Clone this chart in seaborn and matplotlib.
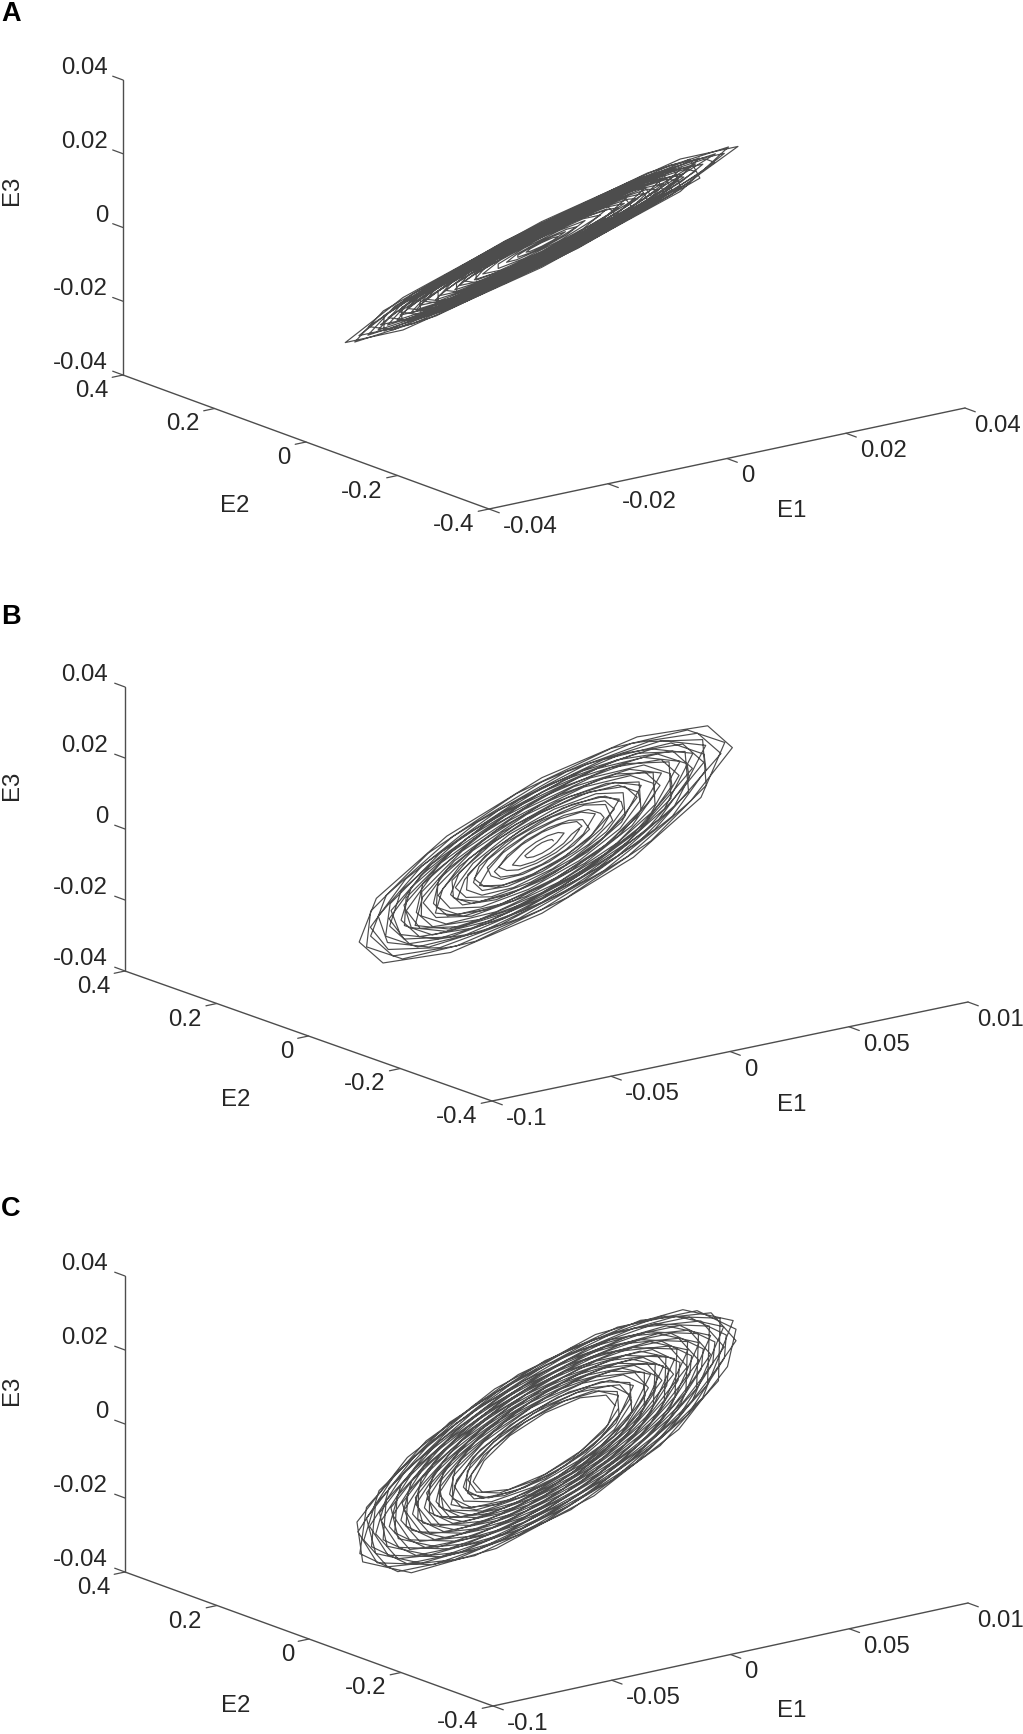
import numpy as np
import pandas as pd
import seaborn as sns
import matplotlib.pyplot as plt

# tick labels, as printed on each panel
E1_TICKS_A = [-0.04, -0.02, 0, 0.02, 0.04]
E1_LABELS_A = ["-0.04", "-0.02", "0", "0.02", "0.04"]
E1_TICKS_BC = [-0.1, -0.05, 0, 0.05, 0.1]
E1_LABELS_BC = ["-0.1", "-0.05", "0", "0.05", "0.01"]
E2_TICKS = [-0.4, -0.2, 0, 0.2, 0.4]
E2_LABELS = ["-0.4", "-0.2", "0", "0.2", "0.4"]
E3_TICKS = [-0.04, -0.02, 0, 0.02, 0.04]
E3_LABELS = ["-0.04", "-0.02", "0", "0.02", "0.04"]

# orbit centres (E1, E3), orbits lie about E2 = 0
CENTRE_A = (-0.0004, 0.0)
CENTRE_B = (-0.0019, -0.0004)
CENTRE_C = (-0.0006, -0.0009)

E1_A = [
    .0026, .0019, 0, -.0019, -.0026, -.0019, 0, .0019,
    .0040, .0016, -.0016, -.0040, -.0040, -.0016, .0016, .0040,
    .0059, .0042, 0, -.0042, -.0059, -.0042, 0, .0042,
    .0073, .0030, -.0030, -.0073, -.0073, -.0030, .0030, .0073,
    .0099, .0070, 0, -.0070, -.0099, -.0070, 0, .0070,
    .0110, .0045, -.0045, -.0110, -.0110, -.0045, .0045, .0110,
    .0139, .0098, 0, -.0098, -.0139, -.0098, 0, .0098,
    .0143, .0059, -.0059, -.0143, -.0143, -.0059, .0059, .0143,
    .0172, .0121, 0, -.0121, -.0172, -.0121, 0, .0121,
    .0174, .0072, -.0072, -.0174, -.0174, -.0072, .0072, .0174,
    .0205, .0144, 0, -.0144, -.0205, -.0144, 0, .0144,
    .0204, .0084, -.0084, -.0204, -.0204, -.0084, .0084, .0204,
    .0238, .0168, 0, -.0168, -.0238, -.0168, 0, .0168,
    .0235, .0097, -.0097, -.0235, -.0235, -.0097, .0097, .0235,
    .0271, .0191, 0, -.0191, -.0271, -.0191, 0, .0191,
    .0265, .0110, -.0110, -.0265, -.0265, -.0110, .0110, .0265,
    .0307, .0217, 0, -.0217, -.0307, -.0217, 0, .0217,
    .0330, .0233, 0, -.0233, -.0330, -.0233, 0, .0233,
    .0314, .0178, -.0061, -.0266, -.0314, -.0178, .0061, .0266,
    .0249, .0062, -.0162, -.0291, -.0249, -.0062, .0162, .0291,
    .0275, .0156, -.0054, -.0233, -.0275, -.0156, .0054, .0233,
    .0222, .0055, -.0144, -.0258, -.0222, -.0055, .0144, .0258,
    .0243, .0138, -.0047, -.0206, -.0243, -.0138, .0047, .0206,
    .0194, .0048, -.0126, -.0226, -.0194, -.0048, .0126, .0226,
    .0211, .0120, -.0041, -.0178, -.0211, -.0120, .0041, .0178,
    .0166, .0041, -.0108, -.0194, -.0166, -.0041, .0108, .0194,
    .0178, .0101, -.0035, -.0151, -.0178, -.0101, .0035, .0151,
    .0139, .0035, -.0090, -.0162, -.0139, -.0035, .0090, .0162,
    .0146, .0083, -.0028, -.0123, -.0146, -.0083, .0028, .0123,
    .0111, .0028, -.0072, -.0129, -.0111, -.0028, .0072, .0129,
    .0113, .0064, -.0022, -.0096, -.0113, -.0064, .0022, .0096,
    .0259, .0147, -.0050, -.0219, -.0259, -.0147, .0050, .0219,
    .0205, .0051, -.0133, -.0239, -.0205, -.0051, .0133, .0239,
    .0220, .0125, -.0043, -.0186, -.0220, -.0125, .0043, .0186,
    .0172, .0043, -.0112, -.0200, -.0172, -.0043, .0112, .0200,
    .0292, .0166, -.0057, -.0247, -.0292, -.0166, .0057, .0247,
]
E3_A = [
    .0012, .0012, .0005, -.0005, -.0012, -.0012, -.0005, .0005,
    .0021, .0015, 0, -.0015, -.0021, -.0015, 0, .0015,
    .0028, .0027, .0011, -.0012, -.0028, -.0027, -.0011, .0012,
    .0040, .0028, 0, -.0028, -.0040, -.0028, 0, .0028,
    .0046, .0046, .0019, -.0019, -.0046, -.0046, -.0019, .0019,
    .0059, .0042, -.0001, -.0042, -.0059, -.0042, .0001, .0042,
    .0064, .0064, .0026, -.0027, -.0064, -.0064, -.0026, .0027,
    .0078, .0055, -.0001, -.0055, -.0078, -.0055, .0001, .0055,
    .0080, .0079, .0032, -.0033, -.0080, -.0079, -.0032, .0033,
    .0094, .0066, -.0001, -.0067, -.0094, -.0066, .0001, .0067,
    .0095, .0094, .0038, -.0040, -.0095, -.0094, -.0038, .0040,
    .0111, .0078, -.0001, -.0078, -.0111, -.0078, .0001, .0078,
    .0110, .0109, .0045, -.0046, -.0110, -.0109, -.0045, .0046,
    .0127, .0089, -.0002, -.0090, -.0127, -.0089, .0002, .0090,
    .0125, .0125, .0051, -.0052, -.0125, -.0125, -.0051, .0052,
    .0144, .0101, -.0002, -.0102, -.0144, -.0101, .0002, .0102,
    .0142, .0141, .0058, -.0060, -.0142, -.0141, -.0058, .0060,
    .0153, .0152, .0062, -.0064, -.0153, -.0152, -.0062, .0064,
    .0157, .0133, .0031, -.0089, -.0157, -.0133, -.0031, .0089,
    .0146, .0084, -.0028, -.0123, -.0146, -.0084, .0028, .0123,
    .0138, .0116, .0027, -.0078, -.0138, -.0116, -.0027, .0078,
    .0130, .0074, -.0025, -.0110, -.0130, -.0074, .0025, .0110,
    .0122, .0103, .0024, -.0069, -.0122, -.0103, -.0024, .0069,
    .0113, .0065, -.0022, -.0096, -.0113, -.0065, .0022, .0096,
    .0105, .0089, .0021, -.0060, -.0105, -.0089, -.0021, .0060,
    .0097, .0056, -.0019, -.0082, -.0097, -.0056, .0019, .0082,
    .0089, .0075, .0018, -.0051, -.0089, -.0075, -.0018, .0051,
    .0081, .0047, -.0016, -.0069, -.0081, -.0047, .0016, .0069,
    .0073, .0062, .0014, -.0041, -.0073, -.0062, -.0014, .0041,
    .0065, .0037, -.0012, -.0055, -.0065, -.0037, .0012, .0055,
    .0057, .0048, .0011, -.0032, -.0057, -.0048, -.0011, .0032,
    .0130, .0110, .0026, -.0074, -.0130, -.0110, -.0026, .0074,
    .0120, .0069, -.0023, -.0101, -.0120, -.0069, .0023, .0101,
    .0110, .0093, .0022, -.0063, -.0110, -.0093, -.0022, .0063,
    .0100, .0058, -.0019, -.0085, -.0100, -.0058, .0019, .0085,
    .0146, .0123, .0029, -.0083, -.0146, -.0123, -.0029, .0083,
]

E1_B = [
    .0048, .0042, .0024, 0, -.0024, -.0042, -.0072, -.0063, -.0036, 0, .0036, .0063,
    .0093, .0068, .0025, -.0025, -.0068, -.0093, -.0124, -.0091, -.0033, .0033, .0091, .0124,
    .0168, .0146, .0084, 0, -.0084, -.0146, -.0200, -.0174, -.0100, 0, .0100, .0174,
    .0224, .0164, .0060, -.0060, -.0164, -.0224, -.0263, -.0192, -.0070, .0070, .0192, .0263,
    .0304, .0264, .0152, 0, -.0152, -.0264, -.0288, -.0251, -.0144, 0, .0144, .0251,
    .0325, .0238, .0087, -.0087, -.0238, -.0325, -.0356, -.0260, -.0095, .0095, .0260, .0356,
    .0400, .0348, .0200, 0, -.0200, -.0348, -.0384, -.0334, -.0192, 0, .0192, .0334,
    .0417, .0306, .0112, -.0112, -.0306, -.0417, -.0448, -.0328, -.0120, .0120, .0328, .0448,
    .0496, .0432, .0248, 0, -.0248, -.0432, -.0456, -.0397, -.0228, 0, .0228, .0397,
    .0502, .0368, .0135, -.0135, -.0368, -.0502, -.0533, -.0391, -.0143, .0143, .0391, .0533,
    .0576, .0501, .0288, 0, -.0288, -.0501, -.0528, -.0459, -.0264, 0, .0264, .0459,
    .0580, .0425, .0155, -.0155, -.0425, -.0580, -.0549, -.0402, -.0147, .0147, .0402, .0549,
    .0632, .0550, .0316, 0, -.0316, -.0550, -.0592, -.0515, -.0296, 0, .0296, .0515,
    .0634, .0464, .0170, -.0170, -.0464, -.0634, -.0595, -.0436, -.0159, .0159, .0436, .0595,
    .0680, .0592, .0340, 0, -.0340, -.0592, -.0640, -.0557, -.0320, 0, .0320, .0557,
    .0688, .0504, .0184, -.0184, -.0504, -.0688, -.0649, -.0475, -.0174, .0174, .0475, .0649,
    .0752, .0654, .0376, 0, -.0376, -.0654, -.0720, -.0626, -.0360, 0, .0360, .0626,
    .0800, .0696, .0400, 0, -.0400, -.0696, -.0768, -.0668, -.0384, 0, .0384, .0668,
    .0768, .0611, .0291, -.0108, -.0478, -.0720, -.0737, -.0586, -.0279, .0103, .0458, .0690,
    .0675, .0449, .0101, -.0273, -.0573, -.0721, -.0646, -.0429, -.0097, .0261, .0548, .0689,
    .0681, .0542, .0258, -.0095, -.0424, -.0638, -.0657, -.0523, -.0249, .0092, .0409, .0616,
    .0601, .0399, .0090, -.0243, -.0510, -.0642, -.0579, -.0385, -.0087, .0234, .0491, .0618,
    .0610, .0485, .0231, -.0085, -.0380, -.0571, -.0578, -.0460, -.0219, .0081, .0360, .0542,
    .0534, .0355, .0080, -.0216, -.0454, -.0570, -.0512, -.0340, -.0077, .0207, .0435, .0546,
    .0539, .0428, .0204, -.0075, -.0335, -.0505, -.0507, -.0403, -.0192, .0071, .0316, .0475,
    .0467, .0311, .0070, -.0189, -.0397, -.0499, -.0445, -.0296, -.0067, .0180, .0378, .0475,
    .0467, .0372, .0177, -.0065, -.0291, -.0438, -.0444, -.0353, -.0168, .0062, .0276, .0416,
    .0408, .0271, .0061, -.0165, -.0347, -.0436, -.0386, -.0256, -.0058, .0156, .0328, .0412,
    .0404, .0321, .0153, -.0057, -.0251, -.0378, -.0372, -.0296, -.0141, .0052, .0232, .0349,
    .0341, .0227, .0051, -.0138, -.0290, -.0364, -.0319, -.0212, -.0048, .0129, .0271, .0341,
    .0333, .0265, .0126, -.0047, -.0207, -.0312, -.0317, -.0252, -.0120, .0044, .0197, .0297,
    .0267, .0177, .0040, -.0108, -.0227, -.0285, -.0245, -.0163, -.0037, .0099, .0208, .0261,
    .0246, .0195, .0093, -.0034, -.0153, -.0230, -.0214, -.0170, -.0081, .0030, .0133, .0200,
    .0171, .0113, .0026, -.0069, -.0145, -.0182, -.0148, -.0099, -.0022, .0060, .0126, .0158,
]
E3_B = [
    .0010, .0015, .0015, .0012, .0005, -.0003, -.0015, -.0022, -.0023, -.0018, -.0008, .0004,
    .0026, .0031, .0028, .0017, .0002, -.0013, -.0034, -.0041, -.0037, -.0023, -.0003, .0018,
    .0035, .0051, .0053, .0041, .0018, -.0010, -.0042, -.0061, -.0064, -.0049, -.0022, .0012,
    .0062, .0075, .0067, .0042, .0006, -.0032, -.0072, -.0087, -.0079, -.0049, -.0006, .0038,
    .0064, .0093, .0097, .0074, .0033, -.0018, -.0060, -.0088, -.0091, -.0070, -.0031, .0017,
    .0089, .0108, .0097, .0060, .0008, -.0047, -.0098, -.0118, -.0107, -.0066, -.0009, .0051,
    .0084, .0122, .0127, .0098, .0043, -.0024, -.0081, -.0117, -.0122, -.0094, -.0041, .0023,
    .0115, .0139, .0125, .0078, .0010, -.0060, -.0124, -.0149, -.0135, -.0084, -.0011, .0064,
    .0104, .0151, .0157, .0121, .0053, -.0030, -.0096, -.0139, -.0145, -.0111, -.0049, .0027,
    .0138, .0167, .0151, .0094, .0012, -.0072, -.0147, -.0177, -.0160, -.0099, -.0013, .0077,
    .0121, .0176, .0183, .0140, .0062, -.0035, -.0111, -.0161, -.0168, -.0129, -.0057, .0032,
    .0160, .0193, .0174, .0108, .0014, -.0083, -.0151, -.0182, -.0165, -.0102, -.0013, .0079,
    .0133, .0193, .0201, .0154, .0068, -.0038, -.0124, -.0181, -.0188, -.0144, -.0064, .0036,
    .0175, .0211, .0190, .0118, .0016, -.0091, -.0164, -.0198, -.0179, -.0111, -.0015, .0085,
    .0143, .0207, .0216, .0166, .0073, -.0041, -.0134, -.0195, -.0203, -.0156, -.0069, .0038,
    .0190, .0229, .0206, .0128, .0017, -.0099, -.0179, -.0216, -.0195, -.0121, -.0016, .0093,
    .0158, .0229, .0239, .0183, .0081, -.0045, -.0151, -.0220, -.0229, -.0176, -.0077, .0043,
    .0168, .0244, .0254, .0195, .0086, -.0048, -.0161, -.0234, -.0244, -.0187, -.0083, .0046,
    .0187, .0244, .0237, .0165, .0049, -.0081, -.0179, -.0234, -.0227, -.0158, -.0047, .0077,
    .0208, .0234, .0197, .0107, -.0011, -.0126, -.0199, -.0224, -.0188, -.0103, .0010, .0121,
    .0166, .0217, .0210, .0146, .0044, -.0071, -.0160, -.0209, -.0203, -.0141, -.0042, .0069,
    .0185, .0208, .0175, .0096, -.0010, -.0113, -.0179, -.0200, -.0168, -.0092, .0009, .0108,
    .0149, .0194, .0188, .0131, .0039, -.0064, -.0141, -.0184, -.0178, -.0124, -.0037, .0061,
    .0165, .0185, .0156, .0085, -.0009, -.0100, -.0158, -.0177, -.0149, -.0081, .0008, .0096,
    .0131, .0171, .0166, .0116, .0035, -.0056, -.0124, -.0161, -.0156, -.0109, -.0033, .0053,
    .0144, .0162, .0136, .0074, -.0008, -.0088, -.0137, -.0154, -.0130, -.0071, .0007, .0083,
    .0114, .0149, .0144, .0100, .0030, -.0049, -.0108, -.0141, -.0137, -.0095, -.0029, .0046,
    .0126, .0141, .0119, .0065, -.0007, -.0076, -.0119, -.0134, -.0112, -.0061, .0006, .0072,
    .0098, .0129, .0124, .0087, .0026, -.0042, -.0091, -.0118, -.0115, -.0080, -.0024, .0039,
    .0105, .0118, .0099, .0054, -.0006, -.0064, -.0098, -.0111, -.0093, -.0051, .0005, .0060,
    .0081, .0106, .0102, .0071, .0021, -.0035, -.0077, -.0101, -.0098, -.0068, -.0020, .0033,
    .0082, .0093, .0078, .0042, -.0004, -.0050, -.0076, -.0085, -.0071, -.0039, .0004, .0046,
    .0060, .0078, .0076, .0053, .0016, -.0026, -.0052, -.0068, -.0066, -.0046, -.0014, .0022,
    .0053, .0059, .0050, .0027, -.0003, -.0032, -.0046, -.0051, -.0043, -.0024, .0002, .0028,
]

E1_C = [
    .0295, .0257, .0148, 0, -.0148, -.0257, -.0303, -.0264, -.0152, 0, .0152, .0264,
    .0309, .0226, .0083, -.0083, -.0226, -.0309, -.0325, -.0238, -.0087, .0087, .0238, .0325,
    .0361, .0314, .0180, 0, -.0180, -.0314, -.0344, -.0299, -.0172, 0, .0172, .0299,
    .0372, .0273, .0100, -.0100, -.0273, -.0372, -.0396, -.0290, -.0106, .0106, .0290, .0396,
    .0435, .0378, .0217, 0, -.0217, -.0378, -.0402, -.0349, -.0201, 0, .0201, .0349,
    .0444, .0325, .0119, -.0119, -.0325, -.0444, -.0428, -.0313, -.0114, .0114, .0313, .0428,
    .0492, .0428, .0246, 0, -.0246, -.0428, -.0459, -.0399, -.0230, 0, .0230, .0399,
    .0499, .0365, .0134, -.0134, -.0365, -.0499, -.0467, -.0342, -.0125, .0125, .0342, .0467,
    .0541, .0471, .0271, 0, -.0271, -.0471, -.0508, -.0442, -.0254, 0, .0254, .0442,
    .0546, .0400, .0146, -.0146, -.0400, -.0546, -.0515, -.0377, -.0138, .0138, .0377, .0515,
    .0599, .0520, .0299, 0, -.0299, -.0520, -.0558, -.0485, -.0279, 0, .0279, .0485,
    .0602, .0441, .0161, -.0161, -.0441, -.0602, -.0562, -.0412, -.0151, .0151, .0412, .0562,
    .0648, .0563, .0324, 0, -.0324, -.0563, -.0607, -.0528, -.0303, 0, .0303, .0528,
    .0649, .0476, .0174, -.0174, -.0476, -.0649, -.0618, -.0452, -.0165, .0165, .0452, .0618,
    .0697, .0606, .0349, 0, -.0349, -.0606, -.0656, -.0570, -.0328, 0, .0328, .0570,
    .0697, .0510, .0187, -.0187, -.0510, -.0697, -.0665, -.0487, -.0178, .0178, .0487, .0665,
    .0754, .0656, .0377, 0, -.0377, -.0656, -.0713, -.0620, -.0357, 0, .0357, .0620,
    .0752, .0551, .0201, -.0201, -.0551, -.0752, -.0713, -.0522, -.0191, .0191, .0522, .0713,
    .0804, .0699, .0402, 0, -.0402, -.0699, -.0763, -.0663, -.0381, 0, .0381, .0663,
    .0792, .0580, .0212, -.0212, -.0580, -.0792, -.0768, -.0563, -.0206, .0206, .0563, .0768,
    .0804, .0640, .0305, -.0113, -.0500, -.0752, -.0780, -.0620, -.0296, .0109, .0485, .0730,
    .0737, .0490, .0111, -.0299, -.0627, -.0788, -.0707, -.0470, -.0106, .0286, .0601, .0755,
    .0763, .0607, .0290, -.0107, -.0475, -.0714, -.0731, -.0581, -.0277, .0103, .0455, .0684,
    .0692, .0460, .0104, -.0280, -.0588, -.0739, -.0661, -.0439, -.0099, .0268, .0562, .0706,
    .0715, .0568, .0271, -.0100, -.0444, -.0669, -.0682, -.0543, -.0259, .0096, .0424, .0638,
    .0646, .0429, .0097, -.0262, -.0549, -.0690, -.0616, -.0409, -.0092, .0249, .0523, .0658,
    .0666, .0530, .0253, -.0093, -.0414, -.0623, -.0633, -.0504, -.0240, .0089, .0394, .0593,
    .0600, .0399, .0090, -.0243, -.0510, -.0641, -.0570, -.0379, -.0086, .0231, .0485, .0609,
    .0617, .0491, .0234, -.0087, -.0384, -.0578, -.0585, -.0465, -.0222, .0082, .0364, .0547,
    .0555, .0369, .0083, -.0225, -.0472, -.0593, -.0524, -.0348, -.0079, .0213, .0446, .0560,
    .0568, .0452, .0216, -.0080, -.0354, -.0532, -.0536, -.0426, -.0203, .0075, .0333, .0502,
    .0509, .0338, .0076, -.0206, -.0433, -.0544, -.0479, -.0318, -.0072, .0194, .0407, .0512,
    .0520, .0413, .0197, -.0073, -.0323, -.0486, -.0487, -.0388, -.0185, .0068, .0303, .0456,
    .0464, .0308, .0070, -.0188, -.0394, -.0495, -.0433, -.0288, -.0065, .0176, .0368, .0463,
    .0471, .0375, .0179, -.0066, -.0293, -.0441, -.0447, -.0355, -.0169, .0063, .0278, .0418,
    .0418, .0278, .0063, -.0169, -.0355, -.0447, -.0395, -.0263, -.0059, .0160, .0336, .0422,
    .0414, .0329, .0157, -.0058, -.0258, -.0388, -.0390, -.0310, -.0148, .0055, .0242, .0365,
    .0357, .0237, .0054, -.0145, -.0304, -.0382, -.0342, -.0227, -.0051, .0139, .0291, .0365,
    .0349, .0278, .0132, -.0049, -.0217, -.0327, -.0333, -.0265, -.0126, .0047, .0207, .0312,
    .0304, .0202, .0046, -.0123, -.0258, -.0325, -.0289, -.0192, -.0043, .0117, .0245, .0309,
]
E3_C = [
    .0060, .0094, .0102, .0082, .0041, -.0012, -.0062, -.0096, -.0104, -.0084, -.0042, .0012,
    .0086, .0109, .0103, .0069, .0016, -.0040, -.0091, -.0115, -.0108, -.0072, -.0017, .0042,
    .0074, .0114, .0124, .0100, .0050, -.0014, -.0071, -.0109, -.0118, -.0096, -.0048, .0013,
    .0104, .0132, .0124, .0083, .0020, -.0048, -.0111, -.0140, -.0132, -.0088, -.0021, .0052,
    .0089, .0138, .0149, .0121, .0060, -.0017, -.0082, -.0127, -.0138, -.0112, -.0056, .0016,
    .0124, .0157, .0148, .0099, .0024, -.0058, -.0119, -.0151, -.0143, -.0095, -.0023, .0056,
    .0101, .0156, .0169, .0137, .0068, -.0019, -.0094, -.0146, -.0158, -.0128, -.0064, .0018,
    .0139, .0176, .0166, .0111, .0026, -.0065, -.0130, -.0165, -.0156, -.0104, -.0025, .0061,
    .0111, .0172, .0186, .0150, .0075, -.0021, -.0104, -.0161, -.0175, -.0141, -.0071, .0020,
    .0152, .0193, .0182, .0121, .0029, -.0071, -.0144, -.0182, -.0172, -.0114, -.0027, .0067,
    .0123, .0190, .0206, .0166, .0083, -.0023, -.0114, -.0177, -.0192, -.0155, -.0078, .0022,
    .0168, .0213, .0201, .0134, .0032, -.0078, -.0157, -.0199, -.0187, -.0125, -.0030, .0073,
    .0133, .0205, .0223, .0180, .0090, -.0025, -.0124, -.0192, -.0209, -.0169, -.0084, .0024,
    .0181, .0230, .0216, .0144, .0034, -.0084, -.0172, -.0218, -.0206, -.0137, -.0033, .0080,
    .0143, .0221, .0240, .0194, .0097, -.0027, -.0134, -.0208, -.0226, -.0182, -.0091, .0026,
    .0194, .0246, .0232, .0155, .0037, -.0091, -.0186, -.0235, -.0222, -.0148, -.0035, .0087,
    .0155, .0239, .0259, .0210, .0105, -.0029, -.0146, -.0226, -.0245, -.0198, -.0099, .0028,
    .0210, .0266, .0251, .0167, .0040, -.0098, -.0199, -.0252, -.0238, -.0158, -.0038, .0093,
    .0165, .0255, .0276, .0223, .0112, -.0031, -.0156, -.0242, -.0262, -.0212, -.0106, .0030,
    .0221, .0280, .0264, .0176, .0042, -.0103, -.0214, -.0272, -.0256, -.0171, -.0041, .0100,
    .0196, .0269, .0271, .0201, .0076, -.0069, -.0190, -.0261, -.0263, -.0195, -.0074, .0067,
    .0235, .0275, .0242, .0144, .0008, -.0130, -.0225, -.0263, -.0232, -.0138, -.0007, .0125,
    .0186, .0256, .0258, .0191, .0072, -.0066, -.0178, -.0245, -.0247, -.0183, -.0069, .0063,
    .0220, .0258, .0227, .0135, .0007, -.0122, -.0211, -.0246, -.0217, -.0129, -.0007, .0117,
    .0174, .0239, .0241, .0179, .0068, -.0062, -.0166, -.0228, -.0230, -.0171, -.0065, .0059,
    .0206, .0241, .0212, .0126, .0007, -.0114, -.0196, -.0229, -.0202, -.0120, -.0006, .0109,
    .0162, .0223, .0225, .0166, .0063, -.0057, -.0154, -.0212, -.0214, -.0158, -.0060, .0055,
    .0191, .0224, .0197, .0117, .0006, -.0106, -.0182, -.0212, -.0187, -.0111, -.0006, .0101,
    .0150, .0207, .0208, .0154, .0059, -.0053, -.0143, -.0196, -.0197, -.0146, -.0055, .0050,
    .0177, .0207, .0182, .0108, .0006, -.0098, -.0167, -.0195, -.0172, -.0102, -.0006, .0092,
    .0139, .0190, .0192, .0142, .0054, -.0049, -.0131, -.0180, -.0181, -.0134, -.0051, .0046,
    .0162, .0190, .0167, .0099, .0005, -.0090, -.0152, -.0178, -.0157, -.0093, -.0005, .0084,
    .0127, .0174, .0175, .0130, .0049, -.0045, -.0119, -.0163, -.0164, -.0122, -.0046, .0042,
    .0148, .0173, .0152, .0090, .0005, -.0082, -.0138, -.0161, -.0142, -.0084, -.0005, .0076,
    .0115, .0158, .0159, .0118, .0045, -.0041, -.0109, -.0150, -.0151, -.0112, -.0042, .0039,
    .0133, .0156, .0137, .0081, .0004, -.0074, -.0126, -.0147, -.0129, -.0077, -.0004, .0070,
    .0101, .0139, .0140, .0104, .0039, -.0036, -.0095, -.0131, -.0132, -.0097, -.0037, .0034,
    .0114, .0133, .0117, .0070, .0004, -.0063, -.0109, -.0127, -.0112, -.0067, -.0004, .0060,
    .0085, .0117, .0118, .0087, .0033, -.0030, -.0081, -.0112, -.0112, -.0083, -.0032, .0029,
    .0097, .0113, .0100, .0059, .0003, -.0054, -.0092, -.0108, -.0095, -.0056, -.0003, .0051,
]

sns.set_style("white")
plt.rcParams['font.family'] = ['Liberation Sans', 'DejaVu Sans']

LINE = "#4d4d4d"
FS = 17.3

fig = plt.figure(figsize=(10.23, 17.34), dpi=100)
ax = fig.add_axes([0, 0, 1, 1])


def project(e1, e2, e3, x_hi, box):
    # oblique view of the box: box holds far corner, front corner, right corner, z height
    (ox, oy), (fx, fy), (rx, ry), h = box
    f1 = (np.asarray(e1) + x_hi) / (2 * x_hi)
    f2 = (np.asarray(e2) + 0.4) / 0.8
    f3 = (np.asarray(e3) + 0.04) / 0.08
    x = fx + f1 * (rx - fx) + f2 * (ox - fx)
    y = fy + f1 * (ry - fy) + f2 * (oy - fy) - f3 * h
    return x, y


def draw_panel(letter, letter_y, box, e2_xy, e1_xy, e3_y, x_hi, e1_ticks, e1_labels, e1, e3, centre):
    ax.text(1, letter_y, letter, fontsize=19.5, fontweight='bold', ha='left', va='center', color='black')

    # the three axis lines
    x, y = project([-x_hi, -x_hi, x_hi], [0.4, -0.4, -0.4], [-0.04, -0.04, -0.04], x_hi, box)
    ax.plot(x, y, color=LINE, lw=1.0)
    x, y = project([-x_hi, -x_hi], [0.4, 0.4], [-0.04, 0.04], x_hi, box)
    ax.plot(x, y, color=LINE, lw=1.0)

    for t, lab in zip(e1_ticks, e1_labels):
        x, y = project(t, -0.4, -0.04, x_hi, box)
        ax.plot([x, x + 10.3], [y, y + 3.8], color=LINE, lw=0.9)
        dx = 9 if t == e1_ticks[-1] else 14
        ax.text(x + dx, y + 18, lab, fontsize=FS, ha='left', va='center')
    for t, lab in zip(E2_TICKS, E2_LABELS):
        x, y = project(-x_hi, t, -0.04, x_hi, box)
        ax.plot([x, x - 10.8], [y, y + 2.3], color=LINE, lw=0.9)
        ax.text(x - 15, y + 16, lab, fontsize=FS, ha='right', va='center')
    for t, lab in zip(E3_TICKS, E3_LABELS):
        x, y = project(-x_hi, 0.4, t, x_hi, box)
        ax.plot([x, x - 10.3], [y, y - 3.8], color=LINE, lw=0.9)
        ax.text(108, y - 12, lab, fontsize=FS, ha='right', va='center')

    ax.text(e2_xy[0], e2_xy[1], "E2", fontsize=FS, ha='center', va='center')
    ax.text(e1_xy[0], e1_xy[1], "E1", fontsize=FS, ha='center', va='center')
    ax.text(12, e3_y, "E3", fontsize=FS, rotation=90, ha='center', va='center')

    x, y = project(np.array(e1) + centre[0], 0.0, np.array(e3) + centre[1], x_hi, box)
    df = pd.DataFrame({"x": x, "y": y})
    sns.lineplot(data=df, x="x", y="y", sort=False, estimator=None, color=LINE, lw=0.85, ax=ax)


draw_panel("A", 14, ((123, 375), (489, 509), (965, 408), 295), (235, 506), (792, 511), 190,
           0.04, E1_TICKS_A, E1_LABELS_A, E1_A, E3_A, CENTRE_A)
draw_panel("B", 617, ((125, 971), (492, 1101), (968, 1002), 284), (236, 1100), (792, 1105), 785,
           0.1, E1_TICKS_BC, E1_LABELS_BC, E1_B, E3_B, CENTRE_B)
draw_panel("C", 1209, ((125, 1572), (493, 1706), (968, 1603), 296), (236, 1706), (792, 1711), 1390,
           0.1, E1_TICKS_BC, E1_LABELS_BC, E1_C, E3_C, CENTRE_C)

ax.set_xlim(0, 1023)
ax.set_ylim(1734, 0)
ax.set_axis_off()

plt.savefig("out.png", dpi=100)
